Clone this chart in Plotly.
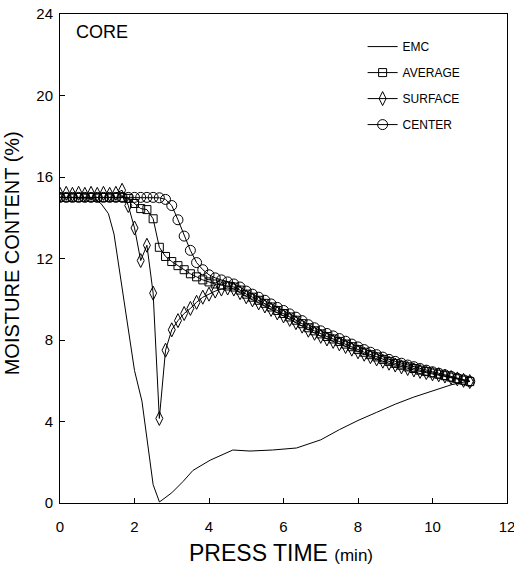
import plotly.graph_objects as go

# time in minutes (10-second steps, k/6 for k = 0..66)
time = [k / 6 for k in range(67)]

average = [15.0, 15.0, 15.0, 15.0, 15.0, 15.0, 15.0, 15.0, 15.0, 15.0,
           15.0, 14.95, 14.7, 14.45, 14.4, 13.95, 12.55, 12.1, 11.85, 11.65,
           11.45, 11.25, 11.1, 10.95, 10.85, 10.75, 10.7, 10.65, 10.6, 10.45,
           10.25, 10.1, 9.95, 9.8, 9.62, 9.45, 9.3, 9.13, 8.97, 8.8,
           8.6, 8.45, 8.3, 8.17, 8.05, 7.93, 7.8, 7.67, 7.53, 7.4,
           7.28, 7.17, 7.05, 6.95, 6.85, 6.76, 6.68, 6.6, 6.52, 6.45,
           6.38, 6.32, 6.25, 6.18, 6.1, 6.03, 5.96]

surface = [15.15, 15.2, 15.15, 15.2, 15.15, 15.2, 15.15, 15.2, 15.15, 15.2,
           15.35, 14.6, 13.5, 11.9, 12.65, 10.3, 4.15, 7.5, 8.5, 8.95,
           9.3, 9.55, 9.85, 10.1, 10.25, 10.4, 10.5, 10.55, 10.5, 10.32,
           10.12, 9.97, 9.82, 9.67, 9.5, 9.33, 9.18, 9.01, 8.85, 8.68,
           8.48, 8.33, 8.18, 8.05, 7.93, 7.81, 7.68, 7.55, 7.42, 7.3,
           7.18, 7.07, 6.96, 6.86, 6.77, 6.68, 6.6, 6.53, 6.46, 6.4,
           6.34, 6.29, 6.23, 6.16, 6.09, 6.02, 5.96]

center = [15.0, 15.0, 15.0, 15.0, 15.0, 15.0, 15.0, 15.0, 15.0, 15.0,
          15.0, 15.0, 15.0, 15.0, 15.0, 15.0, 14.98, 14.9, 14.6, 13.9,
          13.1, 12.4, 11.8, 11.45, 11.2, 11.05, 10.95, 10.85, 10.75, 10.6,
          10.4, 10.25, 10.1, 9.95, 9.77, 9.6, 9.45, 9.28, 9.12, 8.95,
          8.75, 8.6, 8.45, 8.32, 8.2, 8.07, 7.94, 7.8, 7.66, 7.53,
          7.4, 7.28, 7.16, 7.05, 6.95, 6.86, 6.77, 6.69, 6.6, 6.52,
          6.44, 6.37, 6.29, 6.21, 6.12, 6.04, 5.97]

emc_time = [0, 0.9, 1.1, 1.3, 1.45, 2.0, 2.2, 2.5, 2.67, 3.0, 3.3, 3.57,
            4.03, 4.64, 5.1, 5.7, 6.35, 6.6, 7.0, 7.5, 8.0, 8.5, 9.0, 9.5,
            10.0, 10.5, 11.0]
emc = [15.0, 14.95, 14.7, 14.2, 13.2, 6.5, 5.0, 0.9, 0.05, 0.5, 1.05, 1.6,
       2.1, 2.6, 2.55, 2.6, 2.7, 2.85, 3.1, 3.6, 4.05, 4.45, 4.85, 5.2,
       5.5, 5.8, 6.0]

x_ticks = [0, 2, 4, 6, 8, 10, 12]
y_ticks = [0, 4, 8, 12, 16, 20, 24]

FONT = "Liberation Sans"
BLACK = "black"

fig = go.Figure()
fig.add_trace(go.Scatter(x=emc_time, y=emc, mode="lines", name="EMC",
                         legendgroup="a",
                         line=dict(color=BLACK, width=1)))
fig.add_trace(go.Scatter(x=time, y=average, mode="lines+markers", name="AVERAGE",
                         legendgroup="b",
                         line=dict(color=BLACK, width=1),
                         marker=dict(symbol="square-open", size=8,
                                     color=BLACK, line=dict(width=1, color=BLACK))))
fig.add_trace(go.Scatter(x=time, y=surface, mode="lines+markers", name="SURFACE",
                         legendgroup="c",
                         line=dict(color=BLACK, width=1),
                         marker=dict(symbol="diamond-tall-open", size=10,
                                     color=BLACK, line=dict(width=1, color=BLACK))))
fig.add_trace(go.Scatter(x=time, y=center, mode="lines+markers", name="CENTER",
                         legendgroup="d",
                         line=dict(color=BLACK, width=1),
                         marker=dict(symbol="circle-open", size=10,
                                     color=BLACK, line=dict(width=1, color=BLACK))))

axis_common = dict(showline=True, linecolor=BLACK, linewidth=1, mirror=True,
                   ticks="inside", ticklen=5, tickcolor=BLACK, tickwidth=1,
                   showgrid=False, zeroline=False, ticklabeloverflow="allow",
                   automargin=False,
                   tickfont=dict(family=FONT, size=15, color=BLACK))

fig.update_layout(
    width=514, height=570,
    margin=dict(l=60, r=7, t=14, b=67),
    paper_bgcolor="white", plot_bgcolor="white",
    font=dict(family=FONT, color=BLACK),
    xaxis=dict(range=[0, 12], tickvals=x_ticks, ticklabelstandoff=10, **axis_common),
    yaxis=dict(range=[0, 24], tickvals=y_ticks, ticklabelstandoff=3, **axis_common),
    showlegend=True,
    legend=dict(x=0.677, y=0.963, xanchor="left", yanchor="top",
                bgcolor="rgba(0,0,0,0)", borderwidth=0,
                tracegroupgap=7,
                font=dict(family=FONT, size=12, color=BLACK)),
    annotations=[
        dict(text="CORE", xref="paper", yref="paper", x=0.031, y=0.963,
             xanchor="left", yanchor="middle", showarrow=False,
             font=dict(family=FONT, size=18, color=BLACK)),
        dict(text="PRESS TIME <span style='font-size:17px'>(min)</span>",
             xref="paper", yref="paper", x=0.494, y=-0.102,
             xanchor="center", yanchor="middle", showarrow=False,
             font=dict(family=FONT, size=23, color=BLACK)),
        dict(text="MOISTURE CONTENT (%)", xref="paper", yref="paper",
             x=-0.108, y=0.51, xanchor="center", yanchor="middle",
             textangle=-90, showarrow=False,
             font=dict(family=FONT, size=20, color=BLACK)),
    ],
)

fig.write_html("out.html")
